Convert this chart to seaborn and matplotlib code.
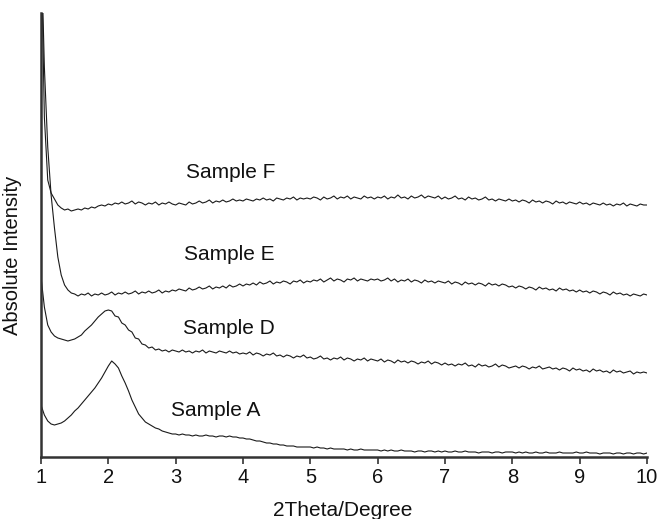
import numpy as np
import pandas as pd
import matplotlib
matplotlib.use("Agg")
import matplotlib.pyplot as plt
import seaborn as sns

# 2theta grid (degrees), step 0.05 from 1 to 10
two_theta = np.round(np.arange(1.0, 10.0001, 0.05), 2)

sample_F = [
    520, 340, 277, 264, 258, 252, 249, 247, 248, 246, 247, 248, 247, 249, 248, 250, 249, 251, 252, 251,
    253, 252, 254, 253, 255, 253, 254, 256, 253, 255, 254, 252, 254, 253, 255, 252, 254, 253, 255, 253,
    252, 254, 253, 252, 255, 253, 254, 256, 254, 255, 257, 254, 256, 255, 257, 255, 256, 258, 256, 257,
    256, 258, 257, 256, 258, 257, 259, 257, 258, 256, 259, 258, 257, 259, 258, 260, 257, 259, 258, 259,
    258, 260, 259, 257, 260, 258, 259, 261, 258, 260, 259, 261, 258, 260, 259, 258, 261, 259, 260, 258,
    260, 259, 261, 258, 260, 259, 262, 259, 260, 258, 261, 259, 260, 262, 259, 261, 260, 259, 261, 258,
    260, 258, 259, 261, 258, 259, 257, 260, 258, 259, 257, 258, 260, 257, 258, 256, 258, 257, 256, 258,
    256, 257, 255, 257, 256, 254, 257, 255, 256, 254, 256, 255, 253, 256, 254, 255, 253, 255, 254, 253,
    255, 253, 254, 252, 254, 253, 252, 254, 252, 253, 251, 253, 252, 254, 251, 253, 252, 251, 253, 252,
    252,
]

sample_E = [
    520, 390, 310, 262, 229, 200, 182, 172, 167, 164, 163, 161, 163, 162, 164, 161, 163, 162, 164, 162,
    163, 165, 162, 164, 163, 165, 163, 164, 166, 163, 165, 164, 166, 164, 165, 167, 164, 166, 165, 167,
    166, 168, 167, 166, 169, 167, 168, 170, 168, 169, 171, 168, 170, 169, 171, 169, 172, 170, 171, 173,
    171, 173, 172, 174, 172, 175, 173, 174, 176, 173, 175, 174, 176, 175, 173, 176, 175, 177, 174, 176,
    175, 177, 176, 178, 175, 177, 179, 176, 178, 177, 175, 178, 177, 179, 176, 178, 177, 176, 178, 177,
    178, 176, 177, 179, 176, 178, 175, 177, 176, 178, 175, 177, 176, 174, 177, 175, 176, 174, 176, 175,
    174, 176, 173, 175, 174, 172, 175, 173, 174, 172, 174, 173, 171, 174, 172, 173, 171, 173, 172, 170,
    171, 169, 171, 170, 168, 170, 169, 167, 170, 168, 169, 167, 168, 166, 169, 167, 168, 166, 167, 165,
    167, 165, 166, 164, 166, 165, 163, 165, 164, 162, 165, 163, 164, 162, 163, 161, 163, 162, 161, 163,
    162,
]

sample_D = [
    180, 150, 132, 125, 121, 119, 118, 117, 116, 117, 118, 120, 122, 126, 129, 132, 136, 140, 143, 146,
    147, 146, 141, 140, 134, 132, 127, 125, 119, 118, 113, 112, 109, 110, 107, 108, 106, 107, 105, 107,
    106, 105, 107, 105, 106, 104, 106, 105, 107, 104, 106, 105, 104, 106, 105, 104, 106, 104, 105, 103,
    104, 103, 105, 102, 104, 103, 101, 103, 102, 104, 101, 102, 100, 102, 101, 99, 101, 100, 102, 99,
    100, 98, 99, 101, 98, 99, 97, 99, 98, 100, 97, 99, 98, 96, 98, 97, 99, 96, 98, 97,
    96, 98, 95, 97, 96, 94, 97, 95, 96, 94, 96, 95, 93, 95, 94, 96, 93, 95, 94, 92,
    94, 92, 93, 91, 93, 92, 94, 91, 92, 90, 93, 91, 92, 90, 91, 93, 90, 92, 91, 89,
    90, 91, 89, 91, 90, 88, 90, 89, 91, 88, 89, 90, 88, 89, 87, 89, 88, 86, 89, 87,
    88, 86, 87, 85, 88, 86, 87, 85, 86, 84, 87, 85, 86, 84, 85, 86, 83, 85, 84, 85,
    84,
]

sample_A = [
    52, 42, 36, 33, 32, 33, 34, 36, 39, 42, 46, 49, 53, 57, 61, 65, 69, 74, 79, 85,
    91, 96, 93, 89, 81, 74, 66, 57, 50, 43, 39, 35, 33, 31, 29, 28, 26, 25, 24, 23,
    23, 22, 23, 22, 22, 21, 22, 21, 21, 22, 21, 21, 20, 21, 21, 20, 21, 20, 20, 19,
    19, 18, 18, 17, 16, 16, 15, 14, 14, 13, 13, 12, 12, 11, 11, 11, 10, 10, 10, 10,
    10, 9, 10, 9, 9, 8, 9, 8, 8, 8, 8, 7, 8, 7, 7, 8, 7, 7, 7, 7,
    7, 6, 7, 6, 7, 6, 6, 7, 6, 6, 6, 5, 6, 6, 5, 6, 6, 5, 6, 5,
    6, 5, 5, 6, 5, 5, 6, 5, 5, 5, 4, 5, 5, 5, 4, 5, 5, 4, 5, 5,
    5, 4, 5, 4, 5, 4, 4, 5, 4, 4, 5, 4, 4, 4, 5, 4, 4, 4, 4, 5,
    4, 4, 5, 4, 4, 4, 3, 4, 4, 4, 3, 4, 4, 3, 4, 4, 3, 4, 4, 3,
    4,
]

series_names = ["Sample F", "Sample E", "Sample D", "Sample A"]
series_values = [sample_F, sample_E, sample_D, sample_A]
label_x = [3.82, 3.79, 3.79, 3.60]
label_y = [284, 202, 128, 46]
x_ticks = list(range(1, 11))

frames = []
for name, vals in zip(series_names, series_values):
    frames.append(pd.DataFrame({"two_theta": two_theta, "intensity": vals, "sample": name}))
df = pd.concat(frames, ignore_index=True)

sns.set_style("white")
plt.rcParams["font.family"] = ["Liberation Sans", "DejaVu Sans"]

fig = plt.figure(figsize=(6.58, 5.19), dpi=100)
ax = fig.add_axes([41 / 658, 1 - 457 / 519, 606 / 658, 444 / 519])

sns.lineplot(data=df, x="two_theta", y="intensity", hue="sample",
             palette=["#1a1a1a"] * 4, linewidth=0.8, legend=False, ax=ax,
             sort=False, estimator=None)

for name, lx, ly in zip(series_names, label_x, label_y):
    ax.text(lx, ly, name, ha="center", va="center", fontsize=15, color="#111111")

ax.set_xlim(1, 10)
ax.set_ylim(0, 444)
ax.set_xticks(x_ticks)
ax.set_xticklabels([str(t) for t in x_ticks], fontsize=14.5, color="#111111")
ax.set_yticks([])
ax.tick_params(axis="x", direction="out", length=5, width=1.2, color="#333333",
               bottom=True, pad=3)

for side in ["top", "right"]:
    ax.spines[side].set_visible(False)
for side in ["left", "bottom"]:
    ax.spines[side].set_color("#333333")
    ax.spines[side].set_linewidth(1.8)

ax.set_xlabel("2Theta/Degree", fontsize=15, color="#111111")
ax.set_ylabel("Absolute Intensity", fontsize=14.5, color="#111111")
ax.xaxis.set_label_coords(0.498, -0.100)
ax.yaxis.set_label_coords(-0.031, 0.455)

fig.savefig("out.png", dpi=100)
